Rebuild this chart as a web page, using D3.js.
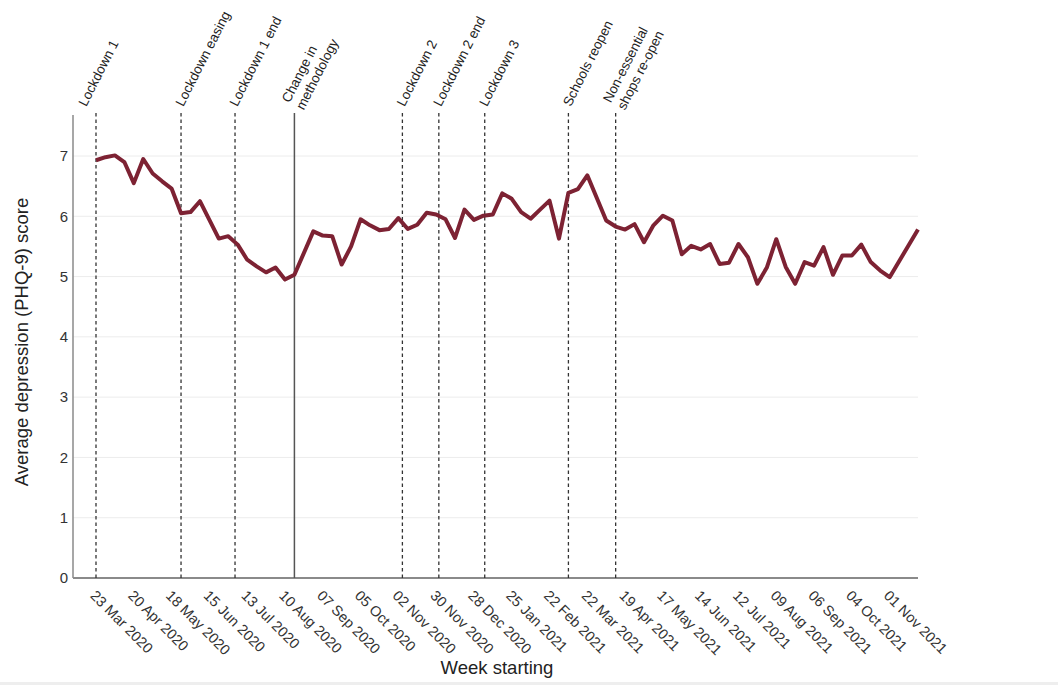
<!DOCTYPE html>
<html>
<head>
<meta charset="utf-8">
<script src="https://cdn.jsdelivr.net/npm/d3@7"></script>
<style>
  body { margin: 0; background: #fff; }
  text { font-family: "Liberation Sans", Arial, sans-serif; }
</style>
</head>
<body>
<div id="chart"></div>
<script>
// weekly averages, week starting (a few weeks have no estimate)
const weekDates = [
  "2020-03-23", "2020-03-30", "2020-04-06", "2020-04-13", "2020-04-20", "2020-04-27",
  "2020-05-04", "2020-05-11", "2020-05-18", "2020-05-25", "2020-06-01", "2020-06-08",
  "2020-06-15", "2020-06-22", "2020-06-29", "2020-07-06", "2020-07-13", "2020-07-20",
  "2020-07-27", "2020-08-03", "2020-08-10", "2020-08-17",
  "2020-08-31", "2020-09-07", "2020-09-14", "2020-09-21", "2020-09-28", "2020-10-05",
  "2020-10-12", "2020-10-19", "2020-10-26", "2020-11-02", "2020-11-09", "2020-11-16",
  "2020-11-23", "2020-11-30", "2020-12-07", "2020-12-14", "2020-12-21", "2020-12-28",
  "2021-01-04", "2021-01-11", "2021-01-18", "2021-01-25", "2021-02-01", "2021-02-08",
  "2021-02-15", "2021-02-22", "2021-03-01", "2021-03-08", "2021-03-15", "2021-03-22",
  "2021-04-05", "2021-04-12", "2021-04-19", "2021-04-26", "2021-05-03", "2021-05-10",
  "2021-05-17", "2021-05-24", "2021-05-31", "2021-06-07", "2021-06-14", "2021-06-21",
  "2021-06-28", "2021-07-05", "2021-07-12", "2021-07-19", "2021-07-26", "2021-08-02",
  "2021-08-09", "2021-08-16", "2021-08-23", "2021-08-30", "2021-09-06", "2021-09-13",
  "2021-09-20", "2021-09-27", "2021-10-04", "2021-10-11", "2021-10-18", "2021-10-25",
  "2021-11-01",
  "2021-11-22"
];
const phq9 = [
  6.93, 6.98, 7.01, 6.90, 6.55, 6.95,
  6.71, 6.58, 6.46, 6.05, 6.07, 6.25,
  5.94, 5.63, 5.67, 5.53, 5.28, 5.17,
  5.07, 5.15, 4.95, 5.03,
  5.75, 5.68, 5.67, 5.20, 5.50, 5.95,
  5.85, 5.77, 5.79, 5.97, 5.79, 5.86,
  6.06, 6.03, 5.95, 5.64, 6.11, 5.94,
  6.01, 6.03, 6.38, 6.29, 6.07, 5.96,
  6.11, 6.26, 5.63, 6.39, 6.45, 6.68,
  5.93, 5.83, 5.78, 5.87, 5.57, 5.85,
  6.01, 5.93, 5.37, 5.51, 5.45, 5.54,
  5.21, 5.23, 5.54, 5.32, 4.88, 5.15,
  5.62, 5.16, 4.88, 5.24, 5.18, 5.49,
  5.03, 5.35, 5.35, 5.53, 5.24, 5.10,
  4.99,
  5.78
];

const tickDates = [
  "2020-03-23", "2020-04-20", "2020-05-18", "2020-06-15", "2020-07-13", "2020-08-10",
  "2020-09-07", "2020-10-05", "2020-11-02", "2020-11-30", "2020-12-28", "2021-01-25",
  "2021-02-22", "2021-03-22", "2021-04-19", "2021-05-17", "2021-06-14", "2021-07-12",
  "2021-08-09", "2021-09-06", "2021-10-04", "2021-11-01"
];
const yTicks = [0, 1, 2, 3, 4, 5, 6, 7];

const eventDates = [
  "2020-03-23", "2020-05-25", "2020-07-04", "2020-08-17", "2020-11-05",
  "2020-12-02", "2021-01-05", "2021-03-08", "2021-04-12"
];
const eventLabels = [
  ["Lockdown 1"], ["Lockdown easing"], ["Lockdown 1 end"], ["Change in", "methodology"],
  ["Lockdown 2"], ["Lockdown 2 end"], ["Lockdown 3"], ["Schools reopen"],
  ["Non-essential", "shops re-open"]
];
const eventKinds = ["policy", "policy", "policy", "method", "policy", "policy", "policy", "policy", "policy"];

const width = 1058, height = 685;
const plotLeft = 73, plotRight = 918, plotBottom = 578, plotTop = 113;
const parse = d3.utcParse("%Y-%m-%d");

const data = weekDates.map((d, i) => ({ date: parse(d), value: phq9[i] }));
const events = eventDates.map((d, i) => ({ date: parse(d), label: eventLabels[i], kind: eventKinds[i] }));

const x = d3.scaleUtc()
  .domain([parse("2020-03-23"), parse("2021-11-22")])
  .range([96, 918]);
const y = d3.scaleLinear().domain([0, 7]).range([plotBottom, 156]);

const svg = d3.select("#chart").append("svg")
  .attr("width", width).attr("height", height);

// gridlines
svg.append("g").selectAll("line").data(yTicks.filter(d => d > 0)).join("line")
  .attr("x1", plotLeft).attr("x2", plotRight)
  .attr("y1", d => y(d)).attr("y2", d => y(d))
  .attr("stroke", "#ececec").attr("stroke-width", 1);

// y axis
const yAxis = svg.append("g").attr("transform", `translate(${plotLeft},0)`)
  .call(d3.axisLeft(y).tickValues(yTicks).tickSize(0).tickPadding(5).tickFormat(d3.format("d")));
yAxis.select(".domain").remove();
yAxis.selectAll("text").attr("font-size", 15).attr("fill", "#333");
svg.append("line")
  .attr("x1", plotLeft).attr("x2", plotLeft).attr("y1", plotTop + 2).attr("y2", plotBottom)
  .attr("stroke", "#8a8a8a").attr("stroke-width", 1.5);

// x axis
svg.append("line")
  .attr("x1", plotLeft).attr("x2", plotRight).attr("y1", plotBottom).attr("y2", plotBottom)
  .attr("stroke", "#8a8a8a").attr("stroke-width", 2);
svg.append("g").selectAll("text").data(tickDates.map(parse)).join("text")
  .attr("transform", d => `translate(${x(d) - 3},${plotBottom + 15}) rotate(45)`)
  .attr("dy", "0.35em")
  .attr("font-size", 14.5)
  .attr("fill", "#333")
  .text(d3.utcFormat("%d %b %Y"));

// event lines
svg.append("g").selectAll("line").data(events).join("line")
  .attr("x1", d => x(d.date)).attr("x2", d => x(d.date))
  .attr("y1", plotTop).attr("y2", plotBottom)
  .attr("stroke", d => d.kind === "method" ? "#555" : "#333")
  .attr("stroke-width", d => d.kind === "method" ? 1.5 : 1.3)
  .attr("stroke-dasharray", d => d.kind === "method" ? null : "3.5,3");

// event labels
const labelNudge = { "Lockdown 1": -12 };
const lineH = 16;
const labels = svg.append("g").selectAll("text").data(events).join("text")
  .attr("transform", d => `translate(${x(d.date) - 2 + (labelNudge[d.label[0]] || 0)},105) rotate(-63)`)
  .attr("font-size", 13.5)
  .attr("fill", "#222");
labels.selectAll("tspan").data(d => d.label.map((t, i) => ({ t, i, n: d.label.length }))).join("tspan")
  .attr("x", 0)
  .attr("y", d => (d.i - (d.n - 1) / 2) * lineH)
  .attr("dy", "0.35em")
  .text(d => d.t);

// series line
svg.append("path").datum(data)
  .attr("fill", "none")
  .attr("stroke", "#7d2233")
  .attr("stroke-width", 4)
  .attr("stroke-linejoin", "round")
  .attr("d", d3.line().x(d => x(d.date)).y(d => y(d.value)));

// axis titles
svg.append("text")
  .attr("transform", `translate(28,342) rotate(-90)`)
  .attr("text-anchor", "middle")
  .attr("font-size", 18.5)
  .attr("fill", "#222")
  .text("Average depression (PHQ-9) score");
svg.append("text")
  .attr("x", 497).attr("y", 674)
  .attr("text-anchor", "middle")
  .attr("font-size", 18.5)
  .attr("fill", "#222")
  .text("Week starting");

// bottom strip
svg.append("rect").attr("x", 0).attr("y", 682).attr("width", width).attr("height", 3).attr("fill", "#eeeeee");
</script>
</body>
</html>
